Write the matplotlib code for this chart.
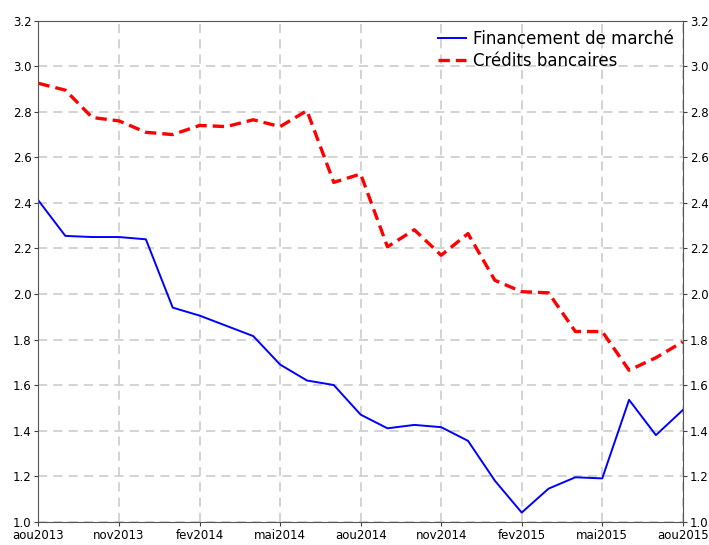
import numpy as np
import matplotlib
matplotlib.use("Agg")
import matplotlib.pyplot as plt

# monthly values, aou2013 .. aou2015
months = ["aou2013", "sep2013", "oct2013", "nov2013", "dec2013",
          "jan2014", "fev2014", "mar2014", "avr2014", "mai2014", "jun2014", "jul2014",
          "aou2014", "sep2014", "oct2014", "nov2014", "dec2014",
          "jan2015", "fev2015", "mar2015", "avr2015", "mai2015", "jun2015", "jul2015",
          "aou2015"]
marche = [2.41, 2.255, 2.25, 2.25, 2.24, 1.94, 1.905, 1.86, 1.815, 1.69, 1.62, 1.60,
          1.47, 1.41, 1.425, 1.415, 1.355, 1.18, 1.04, 1.145, 1.195, 1.19, 1.535, 1.38,
          1.49]
credits = [2.925, 2.895, 2.775, 2.76, 2.71, 2.70, 2.74, 2.735, 2.765, 2.735, 2.805, 2.49,
           2.527, 2.207, 2.282, 2.17, 2.265, 2.06, 2.01, 2.005, 1.835, 1.835, 1.665, 1.72,
           1.79]
tick_months = ["aou2013", "nov2013", "fev2014", "mai2014", "aou2014", "nov2014",
               "fev2015", "mai2015", "aou2015"]
yticks = [1.0, 1.2, 1.4, 1.6, 1.8, 2.0, 2.2, 2.4, 2.6, 2.8, 3.0, 3.2]

x = np.arange(len(months))

fig = plt.figure(figsize=(7.09, 5.45), dpi=100)
ax = fig.add_axes([0.0543, 0.0428, 0.9087, 0.9192])

ax.plot(x, marche, color="#0000ff", lw=1.4, label="Financement de marché")
ax.plot(x, credits, color="#ff0000", lw=2.4, ls=(0, (3.4, 1.8)), label="Crédits bancaires")

ax.set_xlim(0, len(months) - 1)
ax.set_ylim(1.0, 3.2)
ax.set_yticks(yticks)
ax.set_yticklabels(["%.1f" % v for v in yticks])
ax.set_xticks([months.index(m) for m in tick_months])
ax.set_xticklabels(tick_months)

ax.grid(True, color="#c8c8c8", ls=(0, (6, 4)), lw=1.1)
ax.set_axisbelow(True)
ax.tick_params(axis="both", labelsize=8.5, length=3, pad=2, color="#404040", direction="out")
ax.tick_params(axis="y", right=True, labelright=True)
for s in ax.spines.values():
    s.set_color("#555555")

ax.legend(loc="upper right", frameon=False, fontsize=12, handlelength=1.7,
          handletextpad=0.4, borderaxespad=0.15, labelspacing=0.25)

fig.savefig("out.png", dpi=100)
